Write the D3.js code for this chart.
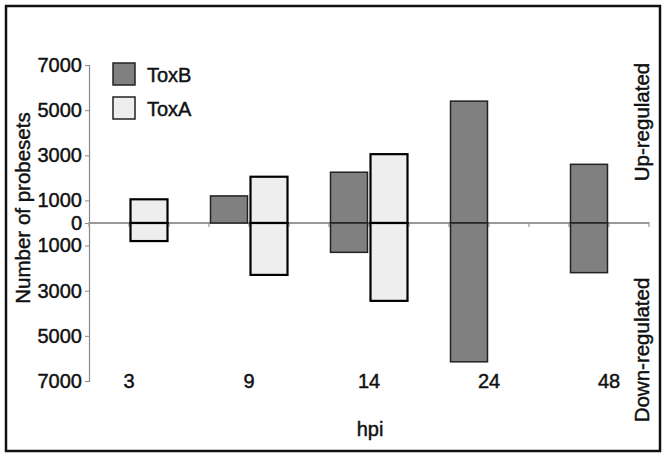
<!DOCTYPE html>
<html>
<head>
	<meta charset="UTF-8">
	<title>Probesets per hpi</title>
	<script src="https://cdn.jsdelivr.net/npm/d3@7"></script>
	<style>
		body { margin: 0; background: #fff; }
		text { font-family: "Liberation Sans", Arial, sans-serif; fill: #111; stroke: #111; stroke-width: 0.45px; }
	</style>
</head>
<body>
	<script>
		// data
		var hpi = ['3', '9', '14', '24', '48'];
		var toxBUp   = [0, 1200, 2250, 5400, 2600];
		var toxBDown = [0, 0, 1300, 6150, 2200];
		var toxAUp   = [1050, 2050, 3050, 0, 0];
		var toxADown = [800, 2300, 3450, 0, 0];
		var yTicks = [7000, 5000, 3000, 1000, 0, -1000, -3000, -5000, -7000];

		var width = 668, height = 460;

		var svg = d3.select('body')
			.append('svg')
			.attr('width', width)
			.attr('height', height);

		// frame
		svg.append('rect')
			.attr('x', 6).attr('y', 6)
			.attr('width', 654).attr('height', 445)
			.attr('fill', 'none')
			.attr('stroke', '#111')
			.attr('stroke-width', 2.5);

		// slots: B, A, gap for each hpi (no gap after the last)
		var slots = [];
		hpi.forEach(function(h, i) {
			slots.push(h + '-B', h + '-A');
			if (i < hpi.length - 1) slots.push(h + '-gap');
		});

		var x = d3.scaleBand()
			.domain(slots)
			.range([89, 649])
			.paddingInner(0.075)
			.paddingOuter(0.0375);

		var y = d3.scaleLinear()
			.domain([-7000, 7000])
			.range([381, 65]);

		// y axis
		var yAxis = svg.append('g')
			.attr('transform', 'translate(89,0)')
			.call(d3.axisLeft(y)
				.tickValues(yTicks)
				.tickSize(4)
				.tickPadding(3)
				.tickFormat(function(d) { return Math.abs(d); }));
		yAxis.select('.domain').attr('stroke', '#888').attr('stroke-width', 1.2);
		yAxis.selectAll('.tick line').attr('stroke', '#888');
		yAxis.selectAll('.tick text')
			.attr('font-family', '"Liberation Sans", Arial, sans-serif')
			.attr('font-size', 20)
			.attr('fill', '#111');

		// zero line with slot ticks
		var x0 = x.range()[0], x1 = x.range()[1];
		svg.append('line')
			.attr('x1', x0).attr('x2', x1)
			.attr('y1', y(0)).attr('y2', y(0))
			.attr('stroke', '#999')
			.attr('stroke-width', 2);
		svg.selectAll('.slot-tick')
			.data(d3.range(slots.length + 1))
			.enter().append('line')
			.attr('class', 'slot-tick')
			.attr('x1', function(k) { return x0 + k * x.step(); })
			.attr('x2', function(k) { return x0 + k * x.step(); })
			.attr('y1', y(0) - 1)
			.attr('y2', y(0) + 4)
			.attr('stroke', '#999')
			.attr('stroke-width', 1.2);

		// bars
		var bars = [];
		hpi.forEach(function(h, i) {
			bars.push({slot: h + '-B', up: toxBUp[i], down: toxBDown[i], s: 'B'});
			bars.push({slot: h + '-A', up: toxAUp[i], down: toxADown[i], s: 'A'});
		});
		var fill = {B: '#808080', A: '#eeeeee'};
		var stroke = {B: '#222', A: '#000'};
		var sw = {B: 1.5, A: 2.2};

		var rects = [];
		bars.forEach(function(b) {
			if (b.up > 0) rects.push({slot: b.slot, v0: 0, v1: b.up, s: b.s});
			if (b.down > 0) rects.push({slot: b.slot, v0: -b.down, v1: 0, s: b.s});
		});

		svg.selectAll('.bar')
			.data(rects)
			.enter().append('rect')
			.attr('class', 'bar')
			.attr('x', function(d) { return x(d.slot); })
			.attr('width', x.bandwidth())
			.attr('y', function(d) { return y(d.v1); })
			.attr('height', function(d) { return y(d.v0) - y(d.v1); })
			.attr('fill', function(d) { return fill[d.s]; })
			.attr('stroke', function(d) { return stroke[d.s]; })
			.attr('stroke-width', function(d) { return sw[d.s]; });

		// category labels between the two bars of each group
		svg.selectAll('.cat')
			.data(hpi)
			.enter().append('text')
			.attr('class', 'cat')
			.attr('x', function(h) { return (x(h + '-B') + x.bandwidth() + x(h + '-A')) / 2; })
			.attr('y', 388)
			.attr('text-anchor', 'middle')
			.attr('font-size', 20)
			.text(function(h) { return h; });

		// axis titles
		svg.append('text')
			.attr('x', 370).attr('y', 436)
			.attr('text-anchor', 'middle')
			.attr('font-size', 20)
			.text('hpi');

		svg.append('text')
			.attr('transform', 'translate(30,208) rotate(-90)')
			.attr('text-anchor', 'middle')
			.attr('font-size', 20.5)
			.text('Number of probesets');

		svg.append('text')
			.attr('transform', 'translate(649,122) rotate(-90)')
			.attr('text-anchor', 'middle')
			.attr('font-size', 20.5)
			.text('Up-regulated');

		svg.append('text')
			.attr('transform', 'translate(649,350) rotate(-90)')
			.attr('text-anchor', 'middle')
			.attr('font-size', 20.5)
			.text('Down-regulated');

		// legend
		var legend = [{name: 'ToxB', s: 'B'}, {name: 'ToxA', s: 'A'}];
		var lg = svg.selectAll('.legend')
			.data(legend)
			.enter().append('g')
			.attr('class', 'legend')
			.attr('transform', function(d, i) { return 'translate(113,' + (63 + i * 34) + ')'; });
		lg.append('rect')
			.attr('width', 22).attr('height', 22)
			.attr('fill', function(d) { return fill[d.s]; })
			.attr('stroke', '#222')
			.attr('stroke-width', 1.5);
		lg.append('text')
			.attr('x', 34).attr('y', 19)
			.attr('font-size', 20)
			.text(function(d) { return d.name; });
	</script>
</body>
</html>
